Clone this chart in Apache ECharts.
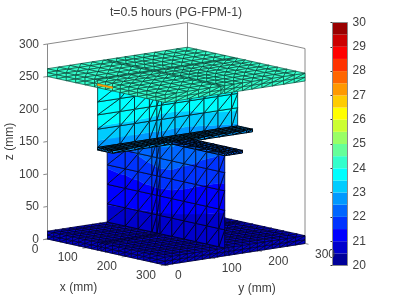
<!DOCTYPE html>
<html><head><meta charset="utf-8">
<style>html,body{margin:0;padding:0;background:#fff}#c{width:399px;height:299px}#c canvas{filter:blur(0.35px)}</style>
<script src="https://cdn.jsdelivr.net/npm/echarts@6/dist/echarts.min.js"></script>
</head><body><div id="c"></div>
<script>
// ---- data ----
const titleText = 't=0.5 hours (PG-FPM-1)';
const xTicks = [0, 100, 200, 300];
const yTicks = [0, 100, 200, 300];
const zTicks = [0, 50, 100, 150, 200, 250, 300];
const cbarMin = 20, cbarMax = 30, cbarStep = 0.5;
const cbarColors = ['#000099','#0000cc','#0000ff','#0033ff','#0066ff','#0099ff','#00ccff','#00ffff','#33ffcc','#66ff99',
                    '#99ff66','#ccff33','#ffff00','#ffcc00','#ff9900','#ff6600','#ff3300','#ff0000','#cc0000','#990000'];
// slab mesh nodes (mm)
const topSlabNodes = [0,24,48,72,96,120,128,148,166,186,208,230,254,277,300];
const botSlabNodes = [0,16,32,48,64,80,96,112,128,137,148,166,182,198,214,230,246,262,280,300];
const topSlabZ = [250,256,262];
const botSlabZ = [0,6,12];
const topSlabTemp = 24.3;
const botSlabTemp = 20.6;
// upper web: plane x = upperWebX
const upperWebX = 128;
const upperWebY = [0,48,79,111,127,137,166,197,228,258,287,300];
const upperWebZ = [158,186,208,228,250];
const upperWebT = [
 [22.75,22.75,22.75,22.75,22.80,22.80,22.75,22.75,22.80,22.85,22.90,22.90],
 [23.42,23.42,23.42,23.40,23.38,23.35,23.35,23.40,23.48,23.55,23.60,23.60],
 [23.80,23.80,23.80,23.78,23.75,23.72,23.72,23.76,23.80,23.82,23.85,23.85],
 [23.90,23.90,23.90,23.90,23.88,23.88,23.88,23.90,23.90,23.92,23.92,23.92],
 [23.95,23.95,23.95,23.95,23.95,23.95,23.95,23.95,23.95,23.95,23.95,23.95]];
// lower web: plane y = lowerWebY
const lowerWebY = 128;
const lowerWebX = [0,46,79,114,127,135,165,196,226,254,285,300];
const lowerWebZ = [12,40,70,100,128,154];
const lowerWebT = [
 [20.70,20.70,20.70,20.70,20.70,20.80,20.80,20.70,20.70,20.70,20.60,20.60],
 [21.02,21.00,20.98,20.96,20.95,20.95,20.92,20.88,20.84,20.80,20.76,20.72],
 [21.28,21.28,21.30,21.32,21.32,21.32,21.30,21.24,21.18,21.12,21.06,21.04],
 [21.55,21.60,21.66,21.74,21.78,21.80,21.76,21.66,21.55,21.45,21.36,21.34],
 [21.80,21.92,22.04,22.18,22.24,22.26,22.22,22.06,21.94,21.86,21.78,21.74],
 [21.95,22.05,22.25,22.50,22.62,22.62,22.56,22.40,22.24,22.10,22.02,22.00]];
// flange plate
const plateZ = [154,158];
const plateStemX = [128,137,147,157,166];
const plateStemY = [0,48,79,111,127,137,166,197,228,258,287,300];
const plateArmX = [166,196,226,254,285,300];
const plateArmY = [128,137,147,157,166];
const plateStemTemp = 22.7;
const plateArmTemp = 22.3;
// hot patch on the top slab side
const hotX = [128,166], hotZ = [253.5,256], hotTemp = 27.2;

// ---- view / styling ----
const view = {ox:47.5, oy:239, xx:117.5/300, xy:26/300, yx:140/300, yy:-21.5/300, zy:-0.65};
const project = (x,y,z) => [view.ox + x*view.xx + y*view.yx, view.oy + x*view.xy + y*view.yy + z*view.zy];
const axisGrey = '#8a8a8a', textColor = '#404040', font = '12px "Liberation Sans"';

// ---- build drawing list ----
const items = [];
function line(a,b){ items.push({kind:'line',a,b}); }
// diag: true = (u0,v0)-(u1,v1), false = (u1,v0)-(u0,v1)
function surface(map,us,vs,temp,diag,lw){
  for(let j=0;j<vs.length-1;j++) for(let i=0;i<us.length-1;i++){
    const p=(a,b)=>({p:map(us[a],vs[b]),t:temp(a,b)});
    const A=p(i,j),B=p(i+1,j),C=p(i+1,j+1),D=p(i,j+1);
    const tris = diag ? [[A,B,C],[A,C,D]] : [[A,B,D],[B,C,D]];
    tris.forEach(t=>items.push({kind:'tri',v:t,lw}));
  }
}
// box
const L=300,H=300;
[[[0,0,0],[0,0,H]],[[0,0,H],[0,L,H]],[[0,L,H],[L,L,H]],[[0,L,0],[0,L,H]],[[L,L,0],[L,L,H]],
 [[0,0,0],[L,0,0]],[[L,0,0],[L,L,0]],[[0,0,0],[0,L,0]],[[0,L,0],[L,L,0]]].forEach(s=>line(s[0],s[1]));
zTicks.forEach(z=>line([0,0,z],[0,-9,z]));
xTicks.forEach(x=>line([x,0,0],[x,-9,0]));
yTicks.forEach(y=>line([L,y,0],[L+9,y,0]));

function slab(nodes,zs,temp,lw){
  const top=zs[zs.length-1];
  const T=()=>temp;
  surface((y,z)=>[0+L,y,z],nodes,zs,T,true,lw);
  surface((x,z)=>[x,0,z],nodes,zs,T,true,lw);
  surface((x,y)=>[x,y,top],nodes,nodes,T,false,lw);
}
slab(botSlabNodes,botSlabZ,botSlabTemp,0.6);
surface((x,z)=>[x,lowerWebY,z],lowerWebX,lowerWebZ,(a,b)=>lowerWebT[b][a],true,0.7);
surface((y,z)=>[upperWebX,y,z],upperWebY,upperWebZ,(a,b)=>upperWebT[b][a],true,0.7);
// plate: sides then top
const zp1=plateZ[1];
surface((y,z)=>[plateStemX[plateStemX.length-1],y,z],plateStemY,plateZ,()=>plateStemTemp,true,1);
surface((x,z)=>[x,0,z],plateStemX,plateZ,()=>plateStemTemp,true,1);
surface((x,z)=>[x,plateArmY[0],z],plateArmX,plateZ,()=>plateArmTemp,true,1);
surface((y,z)=>[L,y,z],plateArmY,plateZ,()=>plateArmTemp,true,1);
surface((x,y)=>[x,y,zp1],plateArmX,plateArmY,()=>plateArmTemp,false,1);
surface((x,y)=>[x,y,zp1],plateStemX,plateStemY,()=>plateStemTemp,false,1);
slab(topSlabNodes,topSlabZ,topSlabTemp,0.5);
surface((x,z)=>[x,0,z],hotX,hotZ,()=>hotTemp,true,0);

// ---- band clipping of a triangle by temperature ----
function clipBand(poly,lo,hi){
  const clip=(pts,keep,val)=>{
    const out=[];
    for(let i=0;i<pts.length;i++){
      const a=pts[i],b=pts[(i+1)%pts.length];
      const ka=keep(a.t),kb=keep(b.t);
      if(ka) out.push(a);
      if(ka!==kb){
        const r=(val-a.t)/(b.t-a.t);
        out.push({s:[a.s[0]+(b.s[0]-a.s[0])*r,a.s[1]+(b.s[1]-a.s[1])*r],t:val});
      }
    }
    return out;
  };
  let res=clip(poly,t=>t>=lo,lo);
  if(res.length) res=clip(res,t=>t<=hi,hi);
  return res;
}
function renderScene(params,api){
  const it=items[params.dataIndex];
  const toPx=q=>api.coord(project(q[0],q[1],q[2]));
  if(it.kind==='line'){
    const a=toPx(it.a),b=toPx(it.b);
    return {type:'line',silent:true,shape:{x1:a[0],y1:a[1],x2:b[0],y2:b[1]},style:{stroke:axisGrey,lineWidth:1}};
  }
  const vs=it.v.map(n=>({s:toPx(n.p),t:n.t}));
  const children=[];
  const ts=vs.map(v=>v.t);
  const tMin=Math.min(...ts),tMax=Math.max(...ts);
  cbarColors.forEach((c,k)=>{
    const lo=cbarMin+k*cbarStep,hi=lo+cbarStep;
    if(tMax<lo||tMin>hi) return;
    const poly=clipBand(vs,lo,hi);
    if(poly.length>=3) children.push({type:'polygon',silent:true,shape:{points:poly.map(v=>v.s)},style:{fill:c,stroke:c,lineWidth:0.4}});
  });
  if(it.lw>0) children.push({type:'polygon',silent:true,shape:{points:vs.map(v=>v.s)},style:{fill:'none',stroke:'#000',lineWidth:it.lw}});
  return {type:'group',children};
}

// ---- labels ----
const labels=[];
zTicks.forEach(z=>{const p=project(0,0,z);labels.push({p,dx:-8.5,dy:0.5,text:String(z),align:'right'});});
xTicks.forEach(x=>{const p=project(x,0,0);labels.push({p,dx:-9,dy:10.5,text:String(x),align:'right'});});
yTicks.forEach(y=>{const p=project(L,y,0);labels.push({p,dx:10,dy:11,text:String(y),align:'left'});});
labels.push({p:project(0,0,0),dx:31,dy:49,text:'x (mm)',align:'center'});
labels.push({p:project(L,0,0),dx:92,dy:24,text:'y (mm)',align:'center'});
labels.push({p:project(0,0,150),dx:-37.5,dy:0,text:'z (mm)',align:'center',rot:Math.PI/2});
function renderLabel(params,api){
  const l=labels[params.dataIndex];
  const c=api.coord(l.p);
  return {type:'text',silent:true,x:c[0]+l.dx,y:c[1]+l.dy,rotation:l.rot||0,
    style:{text:l.text,font,fill:textColor,align:l.align,verticalAlign:'middle'}};
}
function renderCbar(params,api){
  const k=params.dataIndex;
  const lo=cbarMin+k*cbarStep;
  const a=api.coord([0,lo+cbarStep]),b=api.coord([1,lo]);
  return {type:'rect',silent:true,shape:{x:a[0],y:a[1],width:b[0]-a[0],height:b[1]-a[1]},style:{fill:cbarColors[k]}};
}

const chart=echarts.init(document.getElementById('c'),null,{renderer:'canvas'});
chart.setOption({
  animation:false,
  title:{text:titleText,left:176,top:6.5,padding:0,textAlign:'center',textStyle:{fontFamily:'Liberation Sans',fontWeight:'normal',fontSize:12.3,color:textColor}},
  grid:[
    {left:0,right:0,top:0,bottom:0},
    {left:332.5,top:22.5,width:15,height:243,show:true,backgroundColor:'transparent',borderColor:axisGrey,borderWidth:1,z:5}
  ],
  xAxis:[
    {type:'value',gridIndex:0,min:0,max:399,show:false},
    {type:'value',gridIndex:1,min:0,max:1,show:false}
  ],
  yAxis:[
    {type:'value',gridIndex:0,min:0,max:299,inverse:true,show:false},
    {type:'value',gridIndex:1,min:cbarMin,max:cbarMax,interval:1,position:'right',splitLine:{show:false},
     axisLine:{show:true,lineStyle:{color:axisGrey}},axisTick:{show:true,inside:true,length:2,lineStyle:{color:'#333'}},
     axisLabel:{color:textColor,fontFamily:'Liberation Sans',fontSize:12,margin:5}}
  ],
  series:[
    {type:'custom',xAxisIndex:0,yAxisIndex:0,clip:false,silent:true,progressive:0,data:items.map((_,i)=>[i,i]),renderItem:renderScene,z:1},
    {type:'custom',xAxisIndex:0,yAxisIndex:0,clip:false,silent:true,progressive:0,data:labels.map((_,i)=>[i,i]),renderItem:renderLabel,z:3},
    {type:'custom',xAxisIndex:1,yAxisIndex:1,clip:false,silent:true,progressive:0,data:cbarColors.map((_,i)=>[0,cbarMin+i*cbarStep]),renderItem:renderCbar,z:2}
  ]
});
</script></body></html>
